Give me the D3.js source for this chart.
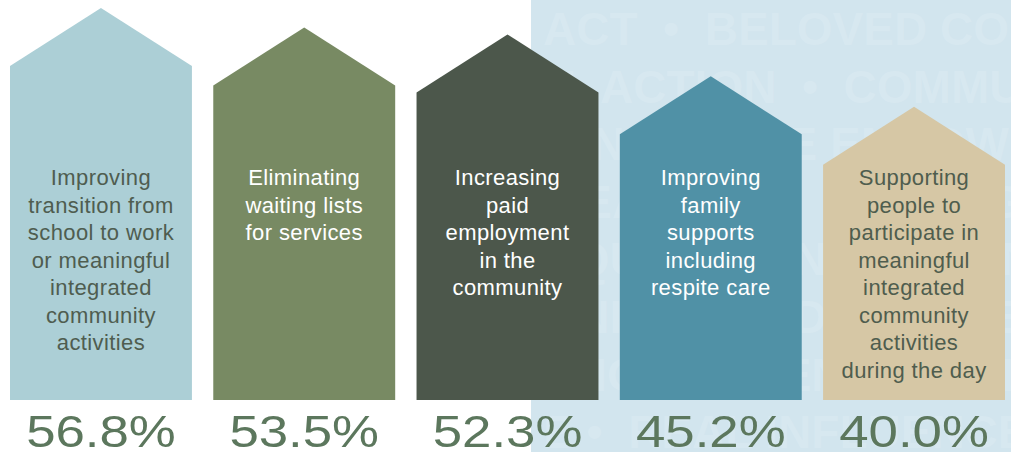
<!DOCTYPE html>
<html>
<head>
<meta charset="utf-8">
<script src="https://cdn.jsdelivr.net/npm/d3@7"></script>
<style>
  body { margin: 0; background: #fff; }
  svg { display: block; }
</style>
</head>
<body>
<script>
const width = 1011;
const height = 452;

// chart data
const categories = ["transition", "waiting", "employment", "family", "daytime"];
const values = [56.8, 53.5, 52.3, 45.2, 40.0];
const labelLines = [
  ["Improving", "transition from", "school to work", "or meaningful", "integrated", "community", "activities"],
  ["Eliminating", "waiting lists", "for services"],
  ["Increasing", "paid", "employment", "in the", "community"],
  ["Improving", "family", "supports", "including", "respite care"],
  ["Supporting", "people to", "participate in", "meaningful", "integrated", "community", "activities", "during the day"]
];
const fills = ["#accfd6", "#788a63", "#4c574b", "#5091a6", "#d6c7a5"];
const textColors = ["#4f5d50", "#ffffff", "#ffffff", "#ffffff", "#4f5d4e"];

// faint words on the background panel
const watermark = [
  "ACT  •  BELOVED COMMUNITY",
  "N  ACTION  •  COMMUNITY",
  "ION  •  TRUE EMPOWERMENT",
  "MEANING  •  BELONGING",
  "EQUITY  •  INCLUSION",
  "UNITY  •  INDEPENDENCE",
  "ENGAGEMENT  •  SELF",
  "E •  REAL INFLUENCE"
];

const svg = d3.select("body").append("svg")
    .attr("width", width)
    .attr("height", height);

// light blue panel on the right
const panelX = 531;
svg.append("rect")
    .attr("x", panelX).attr("y", 0)
    .attr("width", width - panelX).attr("height", height)
    .attr("fill", "#d2e5ee");

svg.append("clipPath").attr("id", "panel-clip")
  .append("rect")
    .attr("x", panelX).attr("y", 0)
    .attr("width", width - panelX).attr("height", height);

svg.append("g")
    .attr("clip-path", "url(#panel-clip)")
  .selectAll("text")
  .data(watermark)
  .enter().append("text")
    .attr("x", 543)
    .attr("y", (d, i) => 45 + i * 57.6)
    .attr("font-family", "'Liberation Sans', Arial, Helvetica, sans-serif")
    .attr("font-weight", "bold")
    .attr("font-size", 46)
    .attr("fill", "#ffffff")
    .attr("fill-opacity", 0.13)
    .style("white-space", "pre")
    .text(d => d);

// scales
const x = d3.scaleBand()
    .domain(categories)
    .range([10, 1005])
    .paddingInner(0.105)
    .paddingOuter(0);

const baseY = 400;
const y = d3.scaleLinear()
    .domain([0, 60])
    .range([baseY, baseY - 60 * 5.88]);

const roof = 58;

const data = categories.map((c, i) => ({ key: c, value: values[i], lines: labelLines[i], fill: fills[i], color: textColors[i] }));

function housePath(d) {
  const x0 = x(d.key), x1 = x0 + x.bandwidth(), cx = x0 + x.bandwidth() / 2;
  const top = y(d.value);
  return "M" + x0 + "," + baseY +
         "L" + x0 + "," + top +
         "L" + cx + "," + (top - roof) +
         "L" + x1 + "," + top +
         "L" + x1 + "," + baseY + "Z";
}

const houses = svg.selectAll(".house")
  .data(data)
  .enter().append("g")
    .attr("class", "house");

houses.append("path")
    .attr("d", housePath)
    .attr("fill", d => d.fill);

houses.append("text")
    .attr("text-anchor", "middle")
    .attr("font-family", "'Liberation Sans', Arial, Helvetica, sans-serif")
    .attr("font-size", 22)
    .attr("letter-spacing", 0.4)
    .attr("fill", d => d.color)
  .selectAll("tspan")
  .data(d => d.lines.map(l => ({ line: l, cx: x(d.key) + x.bandwidth() / 2 })))
  .enter().append("tspan")
    .attr("x", d => d.cx)
    .attr("y", (d, i) => 185 + i * 27.5)
    .text(d => d.line);

// percentages under each house
svg.selectAll(".pct")
  .data(data)
  .enter().append("text")
    .attr("class", "pct")
    .attr("transform", d => "translate(" + (x(d.key) + x.bandwidth() / 2) + ",447) scale(1.2,1)")
    .attr("text-anchor", "middle")
    .attr("font-family", "'Liberation Sans', Arial, Helvetica, sans-serif")
    .attr("font-size", 44)
    .attr("fill", "#5c775d")
    .text(d => d3.format(".1f")(d.value) + "%");
</script>
</body>
</html>
